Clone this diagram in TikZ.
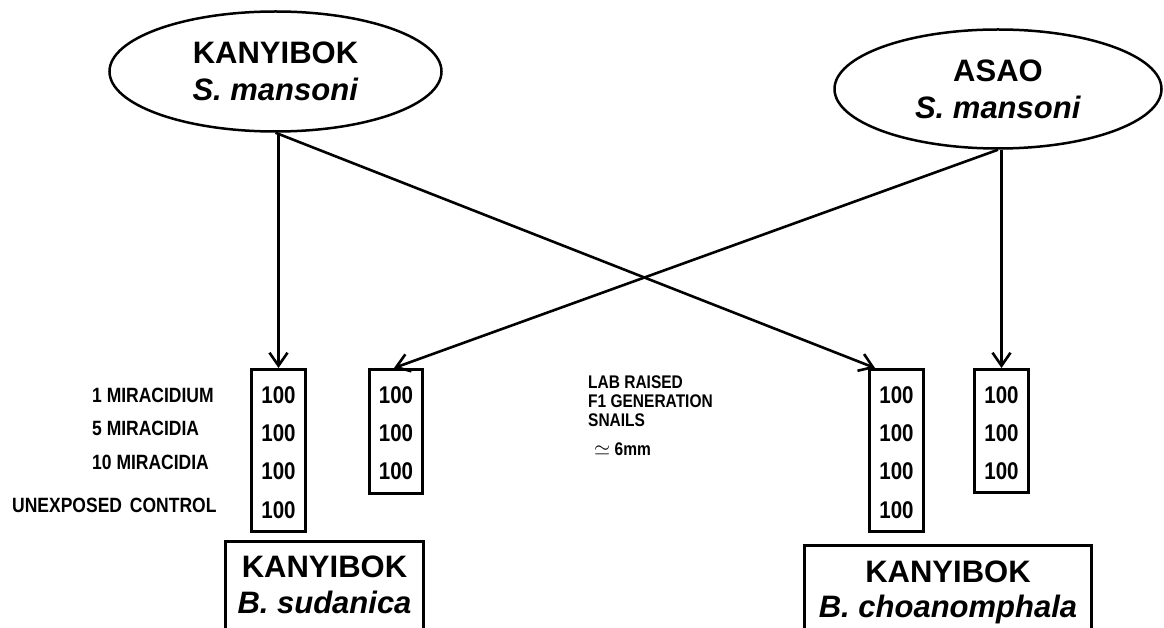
\documentclass[tikz,border=0pt]{standalone}
\usepackage{fontspec}
\setmainfont{Liberation Sans}
\usetikzlibrary{shapes.geometric,arrows.meta}
\newcommand{\tallt}[1]{\scalebox{1}[1.18]{#1}}
\begin{document}
\begin{tikzpicture}[x=1pt,y=-1pt,
  ell/.style={draw, ellipse, line width=2.5pt, inner sep=0pt, align=center,
    font=\fontsize{31}{37}\selectfont\bfseries},
  cell/.style={draw, line width=3pt, inner sep=0pt},
  num/.style={font=\fontsize{20.5}{21}\selectfont\bfseries, anchor=base, inner sep=0pt},
  lab/.style={font=\fontsize{17.5}{17.5}\selectfont\bfseries, anchor=base west, inner sep=0pt},
  mid/.style={font=\fontsize{15.5}{15.5}\selectfont\bfseries, anchor=base west, inner sep=0pt},
  big/.style={font=\fontsize{31}{31}\selectfont\bfseries, anchor=base, inner sep=0pt},
  bigit/.style={font=\fontsize{31}{31}\selectfont\bfseries\itshape, anchor=base, inner sep=0pt},
  arr/.style={line width=2.6pt, -{Straight Barb[length=13pt,width=18pt]}}
]
\clip (0,0) rectangle (1164,628);
\fill[white] (0,0) rectangle (1164,628);

% ellipses
\node (kel) [ell, minimum width=332pt, minimum height=120pt] at (275.5,71.5)
  {KANYIBOK\\\textit{S. mansoni}};
\node (ael) [ell, minimum width=327pt, minimum height=119pt] at (998,89)
  {ASAO\\\textit{S. mansoni}};

% boxes with counts
\node (b1) [cell, minimum width=54pt, minimum height=162pt] at (278.5,450.5) {};
\node (b2) [cell, minimum width=53pt, minimum height=124pt] at (396,431.5) {};
\node (b3) [cell, minimum width=54pt, minimum height=162pt] at (896.5,450.5) {};
\node (b4) [cell, minimum width=54pt, minimum height=123pt] at (1001.5,431) {};

\node (n11) [num] at (278.5,403) {\tallt{100}};
\node (n12) [num] at (278.5,441) {\tallt{100}};
\node (n13) [num] at (278.5,479) {\tallt{100}};
\node (n14) [num] at (278.5,518) {\tallt{100}};
\node (n21) [num] at (396,403) {\tallt{100}};
\node (n22) [num] at (396,441) {\tallt{100}};
\node (n23) [num] at (396,479) {\tallt{100}};
\node (n31) [num] at (896.5,403) {\tallt{100}};
\node (n32) [num] at (896.5,441) {\tallt{100}};
\node (n33) [num] at (896.5,479) {\tallt{100}};
\node (n34) [num] at (896.5,518) {\tallt{100}};
\node (n41) [num] at (1001.5,403) {\tallt{100}};
\node (n42) [num] at (1001.5,441) {\tallt{100}};
\node (n43) [num] at (1001.5,479) {\tallt{100}};

% left labels
\node (l1) [lab] at (92,402) {\tallt{1 MIRACIDIUM}};
\node (l2) [lab] at (92,435) {\tallt{5 MIRACIDIA}};
\node (l3) [lab] at (92,469) {\tallt{10 MIRACIDIA}};
\node (l4) [lab] at (12,512) {\tallt{UNEXPOSED\hspace{0.45em}CONTROL}};

% middle labels
\node (m1) [mid] at (588,388) {\tallt{LAB RAISED}};
\node (m2) [mid] at (588,407) {\tallt{F1 GENERATION}};
\node (m3) [mid] at (588,426) {\tallt{SNAILS}};
\node (m4) [mid] at (594,455) {{\fontsize{20}{20}\selectfont$\simeq$}\ \tallt{6mm}};

% bottom boxes
\node (bl) [cell, anchor=north, minimum width=198pt, minimum height=140pt] at (324.5,540) {};
\node (blt1) [big] at (324.5,577) {KANYIBOK};
\node (blt2) [bigit] at (324.5,613) {B. sudanica};
\node (br) [cell, anchor=north, minimum width=287pt, minimum height=140pt] at (948,544) {};
\node (brt1) [big] at (948,582) {KANYIBOK};
\node (brt2) [bigit] at (948,617) {B. choanomphala};

% connectors
\draw[arr] (b1.north |- kel.south) -- (b1.north);
\draw[arr] (kel.south) -- ([xshift=7pt]b3.north west);
\draw[arr] (ael.south) -- ([xshift=-2pt]b2.north);
\draw[arr] (b4.north |- ael.south) -- (b4.north);
\end{tikzpicture}
\end{document}
